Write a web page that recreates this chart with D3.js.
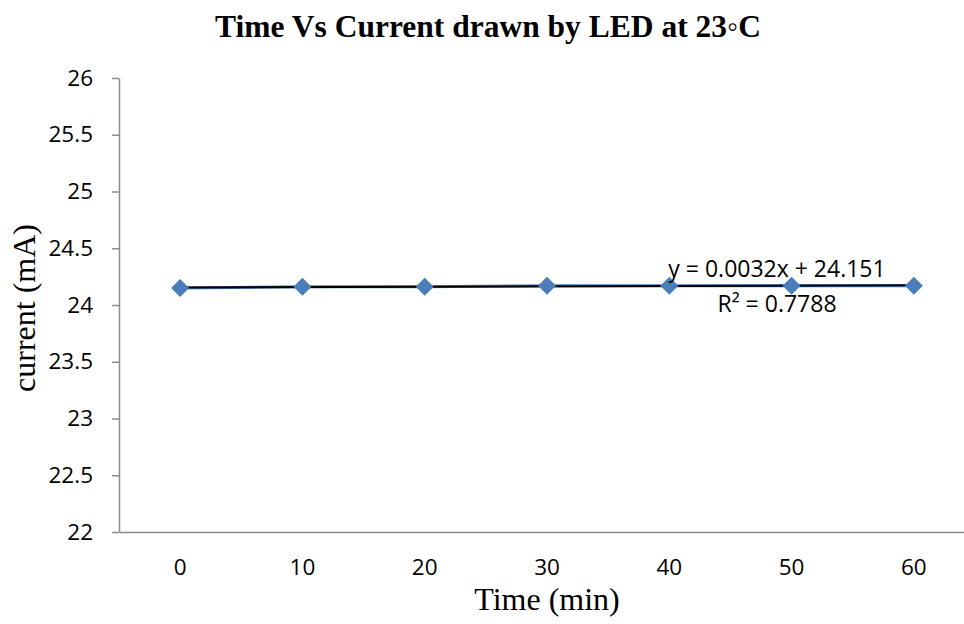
<!DOCTYPE html>
<html>
<head>
<meta charset="utf-8">
<script src="https://cdn.jsdelivr.net/npm/d3@7"></script>
<style>
  body { margin: 0; background: #fff; }
</style>
</head>
<body>
<div id="chart"></div>
<script>
// chart data
const times = [0, 10, 20, 30, 40, 50, 60];
const current = [24.15, 24.16, 24.16, 24.17, 24.17, 24.17, 24.17];
const yTicks = [22, 22.5, 23, 23.5, 24, 24.5, 25, 25.5, 26];
const trendText = ["y = 0.0032x + 24.151", "R\u00B2 = 0.7788"];

const W = 964, H = 624;
const margin = {top: 78, right: W - 975, bottom: H - 532, left: 119};
const width = W - margin.left - margin.right,
      height = H - margin.top - margin.bottom;

const svg = d3.select("#chart").append("svg")
  .attr("width", W).attr("height", H);

const g = svg.append("g")
  .attr("transform", "translate(" + margin.left + "," + margin.top + ")");

const x = d3.scaleBand().domain(times).range([0, width]);
const y = d3.scaleLinear().domain([22, 26]).range([height, 0]);

// y axis
const yAxis = g.append("g")
  .call(d3.axisLeft(y).tickValues(yTicks).tickSize(7).tickSizeOuter(0).tickPadding(19)
    .tickFormat(d => d3.format("")(d)));
yAxis.select(".domain").attr("stroke", "#8c8c8c").attr("stroke-width", 1.5);
yAxis.selectAll(".tick line").attr("stroke", "#8c8c8c").attr("stroke-width", 1.5);
yAxis.selectAll("text").attr("font-family", "Open Sans").attr("font-size", 22.5).attr("fill", "#000");

// x axis
const xAxis = g.append("g")
  .attr("transform", "translate(0," + height + ")")
  .call(d3.axisBottom(x).tickSize(0).tickPadding(27));
xAxis.select(".domain").attr("stroke", "#8c8c8c").attr("stroke-width", 1.5);
xAxis.selectAll("text").attr("font-family", "Open Sans").attr("font-size", 22.5).attr("fill", "#000");

const cx = d => x(d) + x.bandwidth() / 2;

// series line
const line = d3.line().x((d, i) => cx(times[i])).y(d => y(d));
g.append("path").datum(current)
  .attr("fill", "none").attr("stroke", "#4a7ebb").attr("stroke-width", 3)
  .attr("d", line);

// linear trendline (x = point index 1..n)
const n = current.length;
const xs = current.map((d, i) => i + 1);
const mx = d3.mean(xs), my = d3.mean(current);
const slope = d3.sum(xs, (v, i) => (v - mx) * (current[i] - my)) / d3.sum(xs, v => (v - mx) * (v - mx));
const icpt = my - slope * mx;
g.append("line")
  .attr("x1", cx(times[0])).attr("x2", cx(times[n - 1]))
  .attr("y1", y(icpt + slope * 1)).attr("y2", y(icpt + slope * n))
  .attr("stroke", "#000").attr("stroke-width", 2);

// diamond markers
g.selectAll(".pt").data(current).enter().append("path")
  .attr("class", "pt")
  .attr("transform", (d, i) => "translate(" + cx(times[i]) + "," + y(d) + ")")
  .attr("d", "M0,-9L9,0L0,9L-9,0Z")
  .attr("fill", "#4a7ebb");

// trendline label
g.selectAll(".eq").data(trendText).enter().append("text")
  .attr("x", 777 - margin.left)
  .attr("y", (d, i) => 277 - margin.top + i * 35)
  .attr("text-anchor", "middle")
  .attr("font-family", "Open Sans").attr("font-size", 23)
  .text(d => d);

// titles
svg.append("text")
  .attr("x", 488).attr("y", 37)
  .attr("text-anchor", "middle")
  .attr("font-family", "Liberation Serif").attr("font-weight", "bold").attr("font-size", 31.5)
  .text("Time Vs Current drawn by LED at 23\u25E6C");

svg.append("text")
  .attr("x", 547).attr("y", 610)
  .attr("text-anchor", "middle")
  .attr("font-family", "Liberation Serif").attr("font-size", 32)
  .text("Time (min)");

svg.append("text")
  .attr("transform", "translate(35,308) rotate(-90)")
  .attr("text-anchor", "middle")
  .attr("font-family", "Liberation Serif").attr("font-size", 32)
  .text("current (mA)");
</script>
</body>
</html>
